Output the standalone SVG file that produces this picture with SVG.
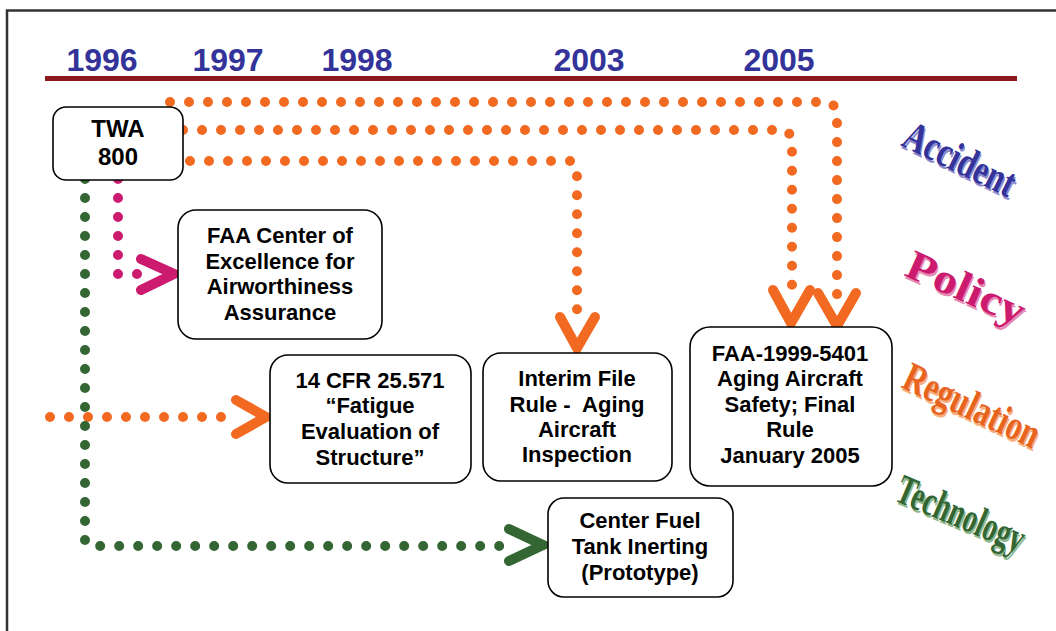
<svg xmlns="http://www.w3.org/2000/svg" width="1056" height="631" viewBox="0 0 1056 631">
<style>
.box{fill:#fff;stroke:#000;stroke-width:1.6}
.t{font-family:"Liberation Sans",Arial,sans-serif;font-weight:bold;font-size:22px;fill:#000;text-anchor:middle}
.yr{font-family:"Liberation Sans",Arial,sans-serif;font-weight:bold;font-size:32px;fill:#333399;text-anchor:middle}
.dot{fill:none;stroke-width:10;stroke-linecap:round;stroke-linejoin:round;stroke-dasharray:0 19}
.chev{fill:none;stroke-width:10;stroke-linecap:round;stroke-linejoin:miter;stroke-miterlimit:10}
.or{stroke:#F26A21}.pk{stroke:#CC1B6F}.gr{stroke:#336633}
.wa{font-family:"Liberation Serif","Times New Roman",serif;font-weight:bold;font-size:42px}
</style>
<rect width="1056" height="631" fill="#fff"/>
<path d="M7,631 V10.5 H1056" fill="none" stroke="#333" stroke-width="2.5"/>
<g id="timeline">
<line x1="45" y1="78.5" x2="1017" y2="78.5" stroke="#8B1A1E" stroke-width="5"/>
<text class="yr" x="102" y="71">1996</text>
<text class="yr" x="228" y="71">1997</text>
<text class="yr" x="357" y="71">1998</text>
<text class="yr" x="589" y="71">2003</text>
<text class="yr" x="779" y="71">2005</text>
</g>
<g id="connectors">
<circle cx="163" cy="114" r="5" fill="#F26A21"/>
<path class="dot or" d="M170,102 H830 L837,109 V300"/>
<polyline class="chev or" points="818,293 837,326 856,293"/>
<path class="dot or" d="M183,130 H786 L792,137 V292"/>
<polyline class="chev or" points="773,290 791,323 810,290"/>
<path class="dot or" d="M171,161 H572 L577,167 V315"/>
<polyline class="chev or" points="560,317 577,348 595,317"/>
<path class="dot or" d="M50,417 H240"/>
<polyline class="chev or" points="236,400 266,417 236,434"/>
<path class="dot pk" d="M118,179 V274 H140"/>
<polyline class="chev pk" points="141,259 174,274 141,290"/>
<path class="dot gr" d="M85,179 V543 L90,546 H505"/>
<polyline class="chev gr" points="509,529 543,545 509,561"/>
</g>
<g id="twa800">
<rect class="box" x="53" y="107" width="130" height="73" rx="13"/>
<text class="t" style="font-size:24px" x="118" y="137">TWA</text>
<text class="t" style="font-size:24px" x="118" y="165">800</text>
</g>
<g id="faa-center">
<rect class="box" x="178" y="210" width="204" height="129" rx="18"/>
<text class="t" x="280" y="243">FAA Center of</text>
<text class="t" x="280" y="269">Excellence for</text>
<text class="t" x="280" y="294">Airworthiness</text>
<text class="t" x="280" y="320">Assurance</text>
</g>
<g id="cfr">
<rect class="box" x="270" y="355" width="201" height="128" rx="18"/>
<text class="t" x="370" y="388">14 CFR 25.571</text>
<text class="t" x="370" y="413">“Fatigue</text>
<text class="t" x="370" y="439">Evaluation of</text>
<text class="t" x="370" y="465">Structure”</text>
</g>
<g id="interim">
<rect class="box" x="483" y="353" width="189" height="128" rx="18"/>
<text class="t" x="577" y="386">Interim File</text>
<text class="t" x="577" y="412" xml:space="preserve">Rule -  Aging</text>
<text class="t" x="577" y="437">Aircraft</text>
<text class="t" x="577" y="462">Inspection</text>
</g>
<g id="faa-1999">
<rect class="box" x="690" y="327" width="202" height="159" rx="20"/>
<text class="t" x="790" y="361">FAA-1999-5401</text>
<text class="t" x="790" y="386">Aging Aircraft</text>
<text class="t" x="790" y="412">Safety; Final</text>
<text class="t" x="790" y="437">Rule</text>
<text class="t" x="790" y="463">January 2005</text>
</g>
<g id="fuel-tank">
<rect class="box" x="548" y="498" width="185" height="99" rx="16"/>
<text class="t" x="640" y="528">Center Fuel</text>
<text class="t" x="640" y="554">Tank Inerting</text>
<text class="t" x="640" y="580">(Prototype)</text>
</g>
<g id="legend">
<g transform="translate(900,145) rotate(26)">
<text class="wa" x="2" y="2" fill="#8C8CCF" textLength="120" lengthAdjust="spacingAndGlyphs">Accident</text>
<text class="wa" x="0" y="0" fill="#333399" textLength="120" lengthAdjust="spacingAndGlyphs">Accident</text>
</g>
<g transform="translate(903,275) rotate(24)">
<text class="wa" x="2" y="2" fill="#E58AB5" textLength="126" lengthAdjust="spacingAndGlyphs">Policy</text>
<text class="wa" x="0" y="0" fill="#CC1B6F" textLength="126" lengthAdjust="spacingAndGlyphs">Policy</text>
</g>
<g transform="translate(900,387) rotate(25)">
<text class="wa" x="2" y="2" fill="#F6AE80" textLength="146" lengthAdjust="spacingAndGlyphs">Regulation</text>
<text class="wa" x="0" y="0" fill="#E8641E" textLength="146" lengthAdjust="spacingAndGlyphs">Regulation</text>
</g>
<g transform="translate(893,500) rotate(23)">
<text class="wa" x="2" y="2" fill="#8FB98F" textLength="136" lengthAdjust="spacingAndGlyphs">Technology</text>
<text class="wa" x="0" y="0" fill="#336633" textLength="136" lengthAdjust="spacingAndGlyphs">Technology</text>
</g>
</g>
</svg>
